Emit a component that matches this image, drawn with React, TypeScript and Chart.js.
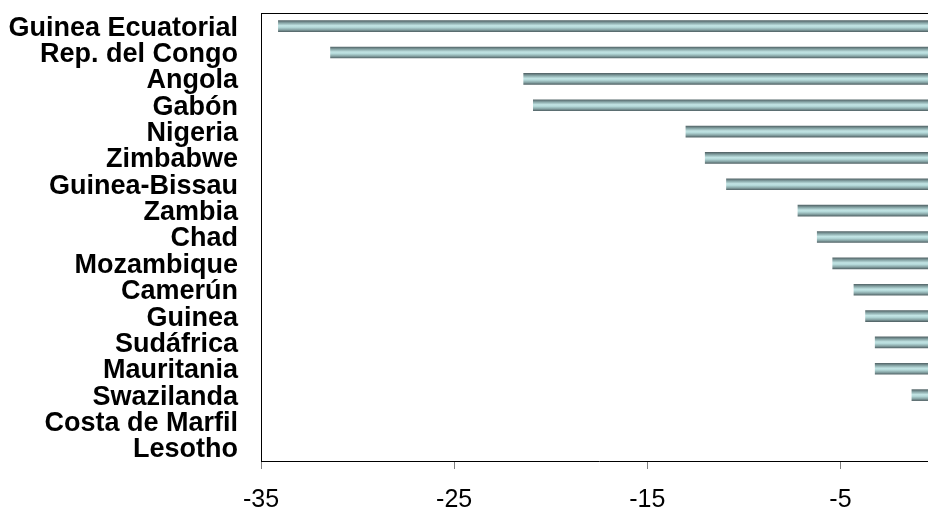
import React, { useEffect, useRef } from "react";
import { Chart, registerables } from "chart.js";

Chart.register(...registerables);

const countries = [
  "Guinea Ecuatorial",
  "Rep. del Congo",
  "Angola",
  "Gabón",
  "Nigeria",
  "Zimbabwe",
  "Guinea-Bissau",
  "Zambia",
  "Chad",
  "Mozambique",
  "Camerún",
  "Guinea",
  "Sudáfrica",
  "Mauritania",
  "Swazilanda",
  "Costa de Marfil",
  "Lesotho",
];

const values = [-34.1, -31.4, -21.4, -20.9, -13.0, -12.0, -10.9, -7.2, -6.2, -5.4, -4.3, -3.7, -3.2, -3.2, -1.3, 0, 0];

const xTicks = [-35, -25, -15, -5];

const FONT = "'Liberation Sans', Arial, Helvetica, sans-serif";
const BAR_H = 11;

const frameLines = {
  id: "frameLines",
  afterDraw(chart: any) {
    const { ctx, chartArea } = chart;
    ctx.save();
    ctx.strokeStyle = "#000000";
    ctx.lineWidth = 1;
    ctx.beginPath();
    ctx.moveTo(chartArea.left, chartArea.top + 0.5);
    ctx.lineTo(chartArea.right, chartArea.top + 0.5);
    ctx.stroke();
    ctx.restore();
  },
};

export default function App() {
  const ref = useRef<HTMLCanvasElement | null>(null);

  useEffect(() => {
    if (!ref.current) return;
    const chart = new Chart(ref.current, {
      type: "bar",
      data: {
        labels: countries,
        datasets: [
          {
            data: values,
            barThickness: BAR_H,
            borderWidth: 0,
            backgroundColor: (c: any) => {
              const ch = c.chart;
              const ys = ch.scales && ch.scales.y;
              if (!ys || c.type !== "data") return "#a8cccc";
              const yc = ys.getPixelForValue(c.dataIndex);
              if (!Number.isFinite(yc)) return "#a8cccc";
              const g = ch.ctx.createLinearGradient(0, yc - BAR_H / 2, 0, yc + BAR_H / 2);
              g.addColorStop(0, "#55676a");
              g.addColorStop(0.22, "#8aa9aa");
              g.addColorStop(0.45, "#c2e4e4");
              g.addColorStop(0.6, "#b5dada");
              g.addColorStop(0.82, "#88a6a7");
              g.addColorStop(1, "#55676a");
              return g;
            },
          },
        ],
      },
      options: {
        indexAxis: "y",
        animation: false,
        responsive: false,
        maintainAspectRatio: false,
        layout: { padding: { top: 13, left: 0, right: 0, bottom: 0 } },
        plugins: {
          legend: { display: false },
          tooltip: { enabled: false },
          title: { display: false },
        },
        scales: {
          x: {
            type: "linear",
            min: -35,
            max: 0,
            afterBuildTicks: (scale: any) => {
              scale.ticks = xTicks.map((v) => ({ value: v }));
            },
            afterFit: (scale: any) => {
              scale.height = 51;
              scale.paddingLeft = 0;
              scale.paddingRight = 0;
            },
            ticks: {
              color: "#000000",
              font: { family: FONT, size: 25 },
              padding: 16,
              maxRotation: 0,
              autoSkip: false,
              callback: (v: any) => String(v),
            },
            grid: {
              display: true,
              drawOnChartArea: false,
              drawTicks: true,
              tickLength: 8,
              color: "#808080",
            },
            border: { display: true, color: "#000000", width: 1 },
          },
          y: {
            type: "category",
            afterFit: (scale: any) => {
              scale.width = 261;
              scale.paddingTop = 0;
              scale.paddingBottom = 0;
            },
            ticks: {
              color: "#000000",
              font: { family: FONT, size: 27, weight: "bold" },
              padding: 23,
              labelOffset: 2,
              autoSkip: false,
            },
            grid: { display: false, drawTicks: false },
            border: { display: true, color: "#000000", width: 1 },
          },
        },
      },
      plugins: [frameLines],
    } as any);
    return () => chart.destroy();
  }, []);

  return (
    <div
      style={{
        position: "absolute",
        left: 0,
        top: 0,
        width: 928,
        height: 512,
        overflow: "hidden",
        background: "#ffffff",
      }}
    >
      <canvas ref={ref} width={937} height={512} style={{ display: "block" }} />
    </div>
  );
}
